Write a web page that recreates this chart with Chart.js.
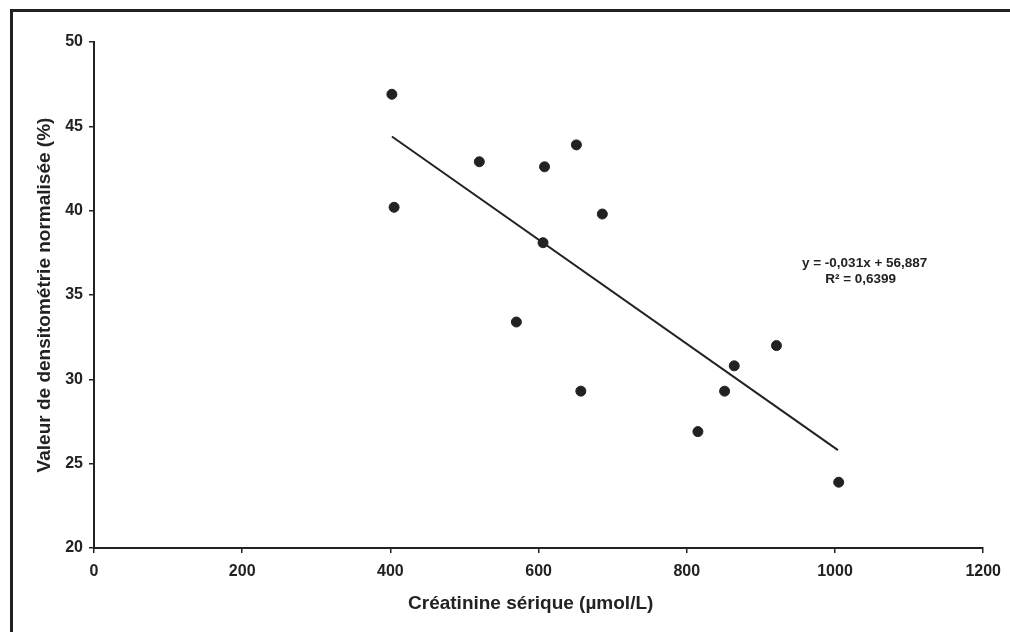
<!DOCTYPE html>
<html lang="fr">
<head>
<meta charset="UTF-8">
<title>Densitométrie normalisée vs créatinine sérique</title>
<script src="https://cdn.jsdelivr.net/npm/chart.js"></script>
<style>
  html, body { margin: 0; padding: 0; background: #fff; }
  .frame { position: relative; width: 1010px; height: 632px; overflow: hidden; }
  /* scanned page edge, top and left only */
  .scan-edge {
    position: absolute; left: 10px; top: 9px; width: 1100px; height: 700px;
    border-top: 3px solid #222; border-left: 3px solid #222;
  }
  canvas { position: absolute; left: 0; top: 0; }
</style>
</head>
<body>
<div class="frame">
  <div class="scan-edge"></div>
  <canvas id="chart" width="1010" height="632"></canvas>
</div>
<script>
// points
const creatinine = [402, 405, 520, 570, 606, 608, 651, 657, 686, 815, 851, 864, 921, 1005];
const densito    = [46.9, 40.2, 42.9, 33.4, 38.1, 42.6, 43.9, 29.3, 39.8, 26.9, 29.3, 30.8, 32.0, 23.9];

// linear trend line (ends as drawn)
const trendX = [402, 1004];
const trendY = [44.4, 25.8];

const xTicks = [0, 200, 400, 600, 800, 1000, 1200];
const yTicks = [20, 25, 30, 35, 40, 45, 50];

const equationLines = ['y = -0,031x + 56,887', 'R² = 0,6399'];
const equationAt = [1040, 36.9];

const ink = '#222';
const family = '"Liberation Sans", Arial, sans-serif';

const equationLabel = {
  id: 'equationLabel',
  afterDatasetsDraw(chart) {
    const { ctx, scales: { x, y } } = chart;
    const px = x.getPixelForValue(equationAt[0]);
    const py = y.getPixelForValue(equationAt[1]);
    ctx.save();
    ctx.font = 'bold 13.5px ' + family;
    ctx.fillStyle = ink;
    ctx.textAlign = 'center';
    ctx.textBaseline = 'middle';
    equationLines.forEach((t, i) => ctx.fillText(t, px - i * 4, py + i * 16));
    ctx.restore();
  }
};

new Chart(document.getElementById('chart'), {
  type: 'scatter',
  data: {
    datasets: [
      {
        label: 'Patients',
        data: creatinine.map((v, i) => ({ x: v, y: densito[i] })),
        backgroundColor: ink,
        borderColor: ink,
        pointRadius: 5,
        pointHoverRadius: 5
      },
      {
        type: 'line',
        label: 'Tendance',
        data: trendX.map((v, i) => ({ x: v, y: trendY[i] })),
        borderColor: ink,
        borderWidth: 2,
        pointRadius: 0,
        fill: false
      }
    ]
  },
  options: {
    responsive: false,
    animation: false,
    layout: { padding: { top: 42, right: 25, left: 0, bottom: 0 } },
    plugins: { legend: { display: false }, tooltip: { enabled: false } },
    scales: {
      x: {
        type: 'linear',
        min: 0, max: 1200,
        afterBuildTicks: s => { s.ticks = xTicks.map(v => ({ value: v })); },
        afterFit: s => { s.height = 84; },
        border: { color: ink, width: 2 },
        grid: { drawOnChartArea: false, drawTicks: true, tickLength: 5, color: ink, lineWidth: 1.5 },
        ticks: {
          color: ink, padding: 9,
          font: { family, size: 16, weight: 'bold' },
          callback: v => String(v)
        },
        title: {
          display: true,
          // trailing spaces nudge the title a little left, as in the scan
          text: 'Créatinine sérique (µmol/L)   ',
          color: ink,
          font: { family, size: 19, weight: 'bold' },
          padding: { top: 0, bottom: 17 }
        }
      },
      y: {
        min: 20, max: 50,
        afterBuildTicks: s => { s.ticks = yTicks.map(v => ({ value: v })); },
        afterFit: s => { s.width = 94; },
        border: { color: ink, width: 2 },
        grid: { drawOnChartArea: false, drawTicks: true, tickLength: 5, color: ink, lineWidth: 1.5 },
        ticks: {
          color: ink, padding: 6,
          font: { family, size: 16, weight: 'bold' },
          callback: v => String(v)
        },
        title: {
          display: true,
          text: 'Valeur de densitométrie normalisée (%)',
          color: ink,
          font: { family, size: 19, weight: 'bold' },
          padding: { top: 33, bottom: 0 }
        }
      }
    }
  },
  plugins: [equationLabel]
});
</script>
</body>
</html>
